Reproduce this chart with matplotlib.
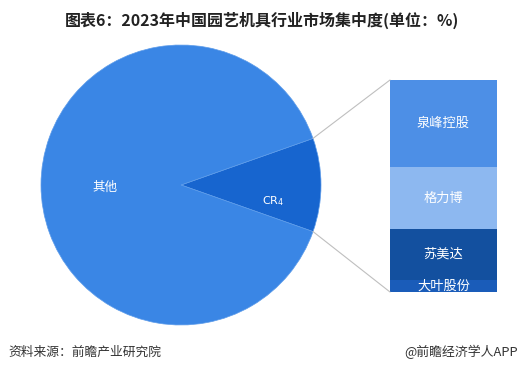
import matplotlib
matplotlib.use('Agg')
import matplotlib.pyplot as plt
from matplotlib.patches import ConnectionPatch
import numpy as np

plt.rcParams['font.family'] = ['Noto Sans CJK SC', 'DejaVu Sans']

# pie data (%)
pie_labels = ['CR$_4$', '其他']
pie_values = [10.8, 89.2]
pie_colors = ['#1765cf', '#3a86e5']

# CR4 breakdown (%), top to bottom
bar_labels = ['泉峰控股', '格力博', '苏美达', '大叶股份']
bar_values = [4.4, 3.1, 2.6, 0.6]
bar_colors = ['#4d8fe6', '#8db8f0', '#13509f', '#1a5cb9']

W, H = 524, 374
fig = plt.figure(figsize=(W / 100, H / 100), dpi=100)
fig.patch.set_facecolor('white')

ax = fig.add_axes([0, 0, 1, 1])
cx, cy, r = 181, H - 185, 140
start = -pie_values[0] / 100 * 360 / 2
wedges, _ = ax.pie(pie_values, colors=pie_colors, startangle=start, center=(cx, cy),
                   radius=r, frame=True, wedgeprops=dict(linewidth=0.5, edgecolor='#5d9cea'))
ax.set_xlim(0, W)
ax.set_ylim(0, H)
ax.axis('off')

ax.text(105, H - 187, '其他', color='white', fontsize=9, ha='center', va='center')
ax.text(273, H - 201, pie_labels[0], color='white', fontsize=8, ha='center', va='center',
        family='DejaVu Sans')

# stacked bar on the right
ax2 = fig.add_axes([390 / W, (H - 292) / H, 107 / W, 212 / H])
total = sum(bar_values)
bottom = total
for lab, val, col in zip(bar_labels, bar_values, bar_colors):
    bottom -= val
    ax2.bar(0, val, bottom=bottom, width=1, color=col, edgecolor='none')
    ax2.text(0, bottom + val / 2, lab, color='white', fontsize=9.5, ha='center', va='center',
             clip_on=True)
ax2.set_xlim(-0.5, 0.5)
ax2.set_ylim(0, total)
ax2.axis('off')

# connector lines
theta1, theta2 = wedges[0].theta1, wedges[0].theta2
for th, yb in [(theta2, total), (theta1, 0)]:
    px = cx + r * np.cos(np.radians(th))
    py = cy + r * np.sin(np.radians(th))
    con = ConnectionPatch(xyA=(-0.5, yb), coordsA=ax2.transData, xyB=(px, py),
                          coordsB=ax.transData, color='#bfbfbf', linewidth=0.8)
    fig.add_artist(con)

fig.text(0.5, 1 - 20 / H, '图表6：2023年中国园艺机具行业市场集中度(单位：%)', ha='center', va='center',
         fontsize=11.5, fontweight='bold', color='#222222')
fig.text(8 / W, 1 - 352 / H, '资料来源：前瞻产业研究院', ha='left', va='center', fontsize=9.2, color='#333333')
fig.text(518 / W, 1 - 352 / H, '@前瞻经济学人APP', ha='right', va='center', fontsize=9.3, color='#333333')

fig.savefig('out.png', dpi=100)
